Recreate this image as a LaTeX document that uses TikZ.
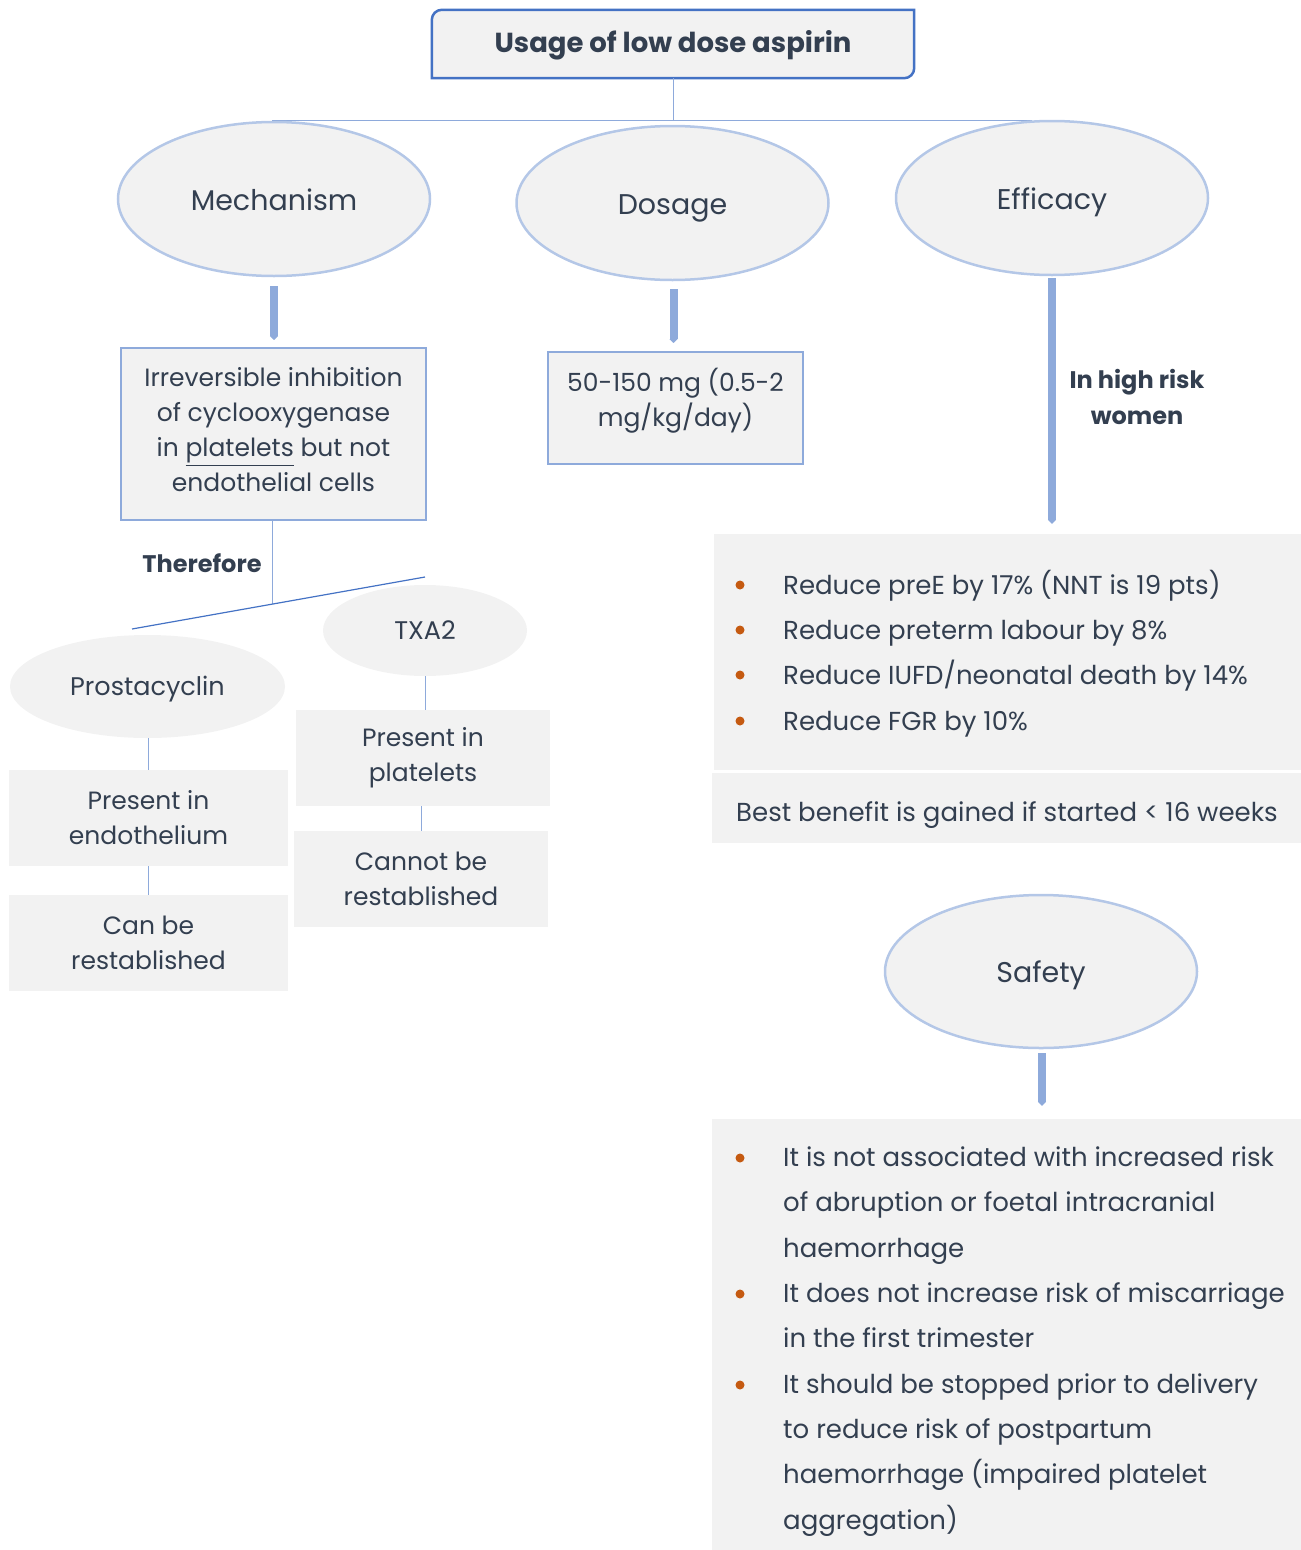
\documentclass[tikz,border=0pt]{standalone}
\usepackage{fontspec}
\setmainfont{Poppins}
\usetikzlibrary{shapes.geometric,arrows.meta,calc}
\definecolor{ink}{RGB}{51,63,80}
\definecolor{panel}{RGB}{242,242,242}
\definecolor{rim}{RGB}{180,199,231}
\definecolor{link}{RGB}{142,170,219}
\definecolor{deep}{RGB}{68,114,196}
\definecolor{dot}{RGB}{197,90,17}
\begin{document}
\begin{tikzpicture}[x=1pt,y=-1pt,
  every node/.style={text=ink, inner sep=0pt},
  bubble/.style={ellipse, fill=panel, draw=rim, line width=2.5pt,
    minimum width=312pt, minimum height=154pt, font=\fontsize{28.5}{30}\selectfont,
    text height=22pt, text depth=0pt},
  softbubble/.style={ellipse, fill=panel, font=\fontsize{25.5}{30}\selectfont,
    text height=18pt, text depth=0pt},
  framed/.style={rectangle, fill=panel, draw=link, line width=2pt},
  flatbox/.style={rectangle, fill=panel, align=center, font=\fontsize{25}{35}\selectfont},
  boxtext/.style={align=center, font=\fontsize{25}{35}\selectfont},
  listline/.style={anchor=base west, font=\fontsize{26}{30}\selectfont},
  thinlink/.style={draw=link, line width=1pt},
  fatlink/.style={draw=link, line width=8pt, -{Triangle[width=8pt,length=4pt]}},
  bulletdot/.style={fill=dot},
]
\useasboundingbox (0,0) rectangle (1301,1550);

% ---- joints of the thin tree lines ----
\coordinate (hub) at (672,120);
\coordinate (hubL) at (272,120);
\coordinate (hubR) at (1032,120);
\coordinate (fork) at (272,604);
\coordinate (forkL) at (132,629);
\coordinate (forkR) at (425,577);

\draw[thinlink] (hubL) -- (hubR);

% ---- title ----
\node[minimum width=482pt, minimum height=68pt] (title) at (673,44) {};
\draw[draw=deep, line width=2.5pt, fill=panel]
  (title.south west)
  -- ($(title.north west)+(0,10)$)
  .. controls ($(title.north west)+(0,4.5)$) and ($(title.north west)+(4.5,0)$) .. ($(title.north west)+(10,0)$)
  -- (title.north east)
  -- ($(title.south east)+(0,-10)$)
  .. controls ($(title.south east)+(0,-4.5)$) and ($(title.south east)+(-4.5,0)$) .. ($(title.south east)+(-10,0)$)
  -- cycle;
\node[font=\fontsize{27.5}{30}\selectfont\bfseries] (titletext) at ($(title.center)+(0,1)$)
  {Usage of low dose aspirin};
\draw[thinlink] (title.south) -- (title.south |- hub);

% ---- the three branches ----
\node[bubble] (mech) at (274,199) {Mechanism};
\node[bubble] (dose) at (672.5,203) {Dosage};
\node[bubble] (eff) at (1052,198) {Efficacy};

\node[framed, minimum width=305pt, minimum height=172pt] (mechbox) at (273.5,434) {};
\node[boxtext] (mechtext) at (273.5,430)
  {Irreversible inhibition\\of cyclooxygenase\\in \underline{platelets} but not\\endothelial cells};
\node[framed, minimum width=255pt, minimum height=112pt] (dosebox) at (675.5,408) {};
\node[boxtext] (dosetext) at (675.5,401) {50-150 mg (0.5-2\\mg/kg/day)};

\draw[fatlink] ($(mech.south)+(0,9)$) -- ($(mech.south |- mechbox.north)+(0,-7)$);
\draw[fatlink] ($(dose.south)+(1,8)$) -- ($(dose.south |- dosebox.north)+(1,-8)$);

% ---- mechanism detail ----
\draw[thinlink] (mechbox.south -| fork) -- (fork);
\draw[draw=deep, line width=1.2pt] (forkL) -- (forkR);
\node[font=\fontsize{24}{30}\selectfont\bfseries] (therefore) at (202,563) {Therefore};

\node[softbubble, minimum width=204pt, minimum height=91pt] (txa) at (425,630.5) {TXA2};
\node[softbubble, minimum width=275pt, minimum height=103pt] (prosta) at (147.5,686.5) {Prostacyclin};

\node[flatbox, minimum width=254pt, minimum height=96pt] (plat) at (423,758) {Present in\\platelets};
\node[flatbox, minimum width=254pt, minimum height=96pt] (cannot) at (421,879) {Cannot be\\restablished};
\node[flatbox, minimum width=279pt, minimum height=96pt] (endo) at (148.5,818) {Present in\\endothelium};
\node[flatbox, minimum width=279pt, minimum height=96pt] (can) at (148.5,943) {Can be\\restablished};

\draw[thinlink] (txa.south) -- (txa.south |- plat.north);
\draw[thinlink] (plat.south -| cannot.north) -- (cannot.north);
\draw[thinlink] (prosta.south -| endo.north) -- (endo.north);
\draw[thinlink] (endo.south) -- (can.north);

% ---- efficacy ----
\node[flatbox, minimum width=587pt, minimum height=236pt] (effbox) at (1007.5,652) {};
\node[flatbox, minimum width=589pt, minimum height=70pt] (bestbox) at (1006.5,808) {};
\draw[fatlink] ($(eff.south)+(0,2)$) -- ($(eff.south |- effbox.north)+(0,-10)$);
\node[font=\fontsize{24}{36}\selectfont\bfseries, align=center] (highrisk) at (1137,397)
  {In high risk\\women};

\foreach \n/\y/\t in {1/594/{Reduce preE by 17\% (NNT is 19 pts)},
                      2/639/{Reduce preterm labour by 8\%},
                      3/684/{Reduce IUFD/neonatal death by 14\%},
                      4/730/{Reduce FGR by 10\%}} {
  \fill[bulletdot] (740,\y-9) circle (4.5pt);
  \node[listline] (eline\n) at (783,\y) {\t};
}
\node[listline] (bestline) at (736,821) {Best benefit is gained if started < 16 weeks};

% ---- safety ----
\node[bubble, minimum height=153pt] (safety) at (1041,971.5) {Safety};
\node[flatbox, minimum width=589pt, minimum height=431pt] (safebox) at (1006.5,1334.5) {};
\draw[fatlink] ($(safety.south)+(1,4)$) -- ($(safety.south |- safebox.north)+(1,-13)$);

\foreach \y in {1167,1303,1394} {
  \fill[bulletdot] (740,\y-9) circle (4.5pt);
}
\foreach \n/\y/\t in {1/1166.5/{It is not associated with increased risk},
                      2/1211.5/{of abruption or foetal intracranial},
                      3/1257.5/{haemorrhage},
                      4/1302.5/{It does not increase risk of miscarriage},
                      5/1347.5/{in the first trimester},
                      6/1393.5/{It should be stopped prior to delivery},
                      7/1438.5/{to reduce risk of postpartum},
                      8/1483.5/{haemorrhage (impaired platelet},
                      9/1529.5/{aggregation)}} {
  \node[listline] (sline\n) at (783,\y) {\t};
}
\end{tikzpicture}
\end{document}
